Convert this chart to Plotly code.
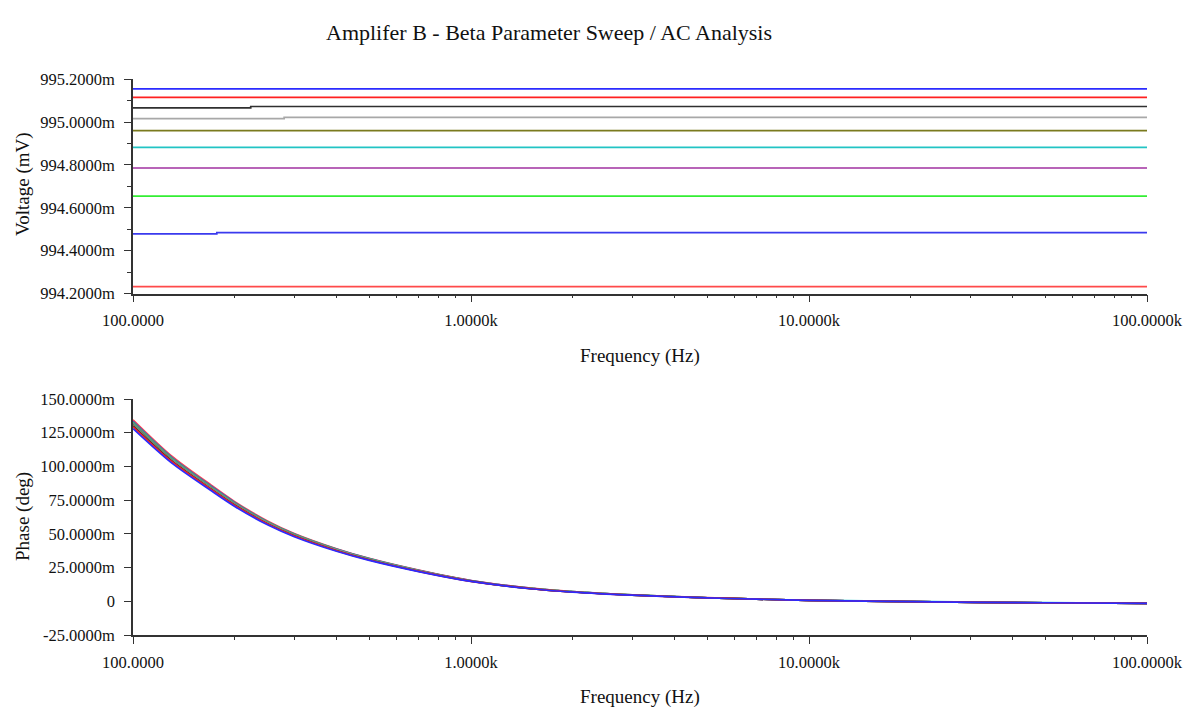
import plotly.graph_objects as go

# ---------------- data ----------------
COLORS = ["#2b2bff", "#ff2020", "#303030", "#a8a8a8", "#7a7a1e",
          "#22c4c4", "#a030a0", "#33ee33", "#3a3aee", "#ff4a4a"]

# magnitude (top plot), values in mV (tick labels shown with "m")
MAG_FREQ = [100, 177, 223, 280, 100000]
mag_blue_a   = [995.155, 995.155, 995.155, 995.155, 995.155]
mag_red_a    = [995.116, 995.116, 995.116, 995.116, 995.116]
mag_black    = [995.067, 995.067, 995.073, 995.073, 995.073]
mag_gray     = [995.016, 995.016, 995.016, 995.022, 995.022]
mag_olive    = [994.960, 994.960, 994.960, 994.960, 994.960]
mag_cyan     = [994.882, 994.882, 994.882, 994.882, 994.882]
mag_purple   = [994.786, 994.786, 994.786, 994.786, 994.786]
mag_green    = [994.655, 994.655, 994.655, 994.655, 994.655]
mag_blue_b   = [994.478, 994.484, 994.484, 994.484, 994.484]
mag_red_b    = [994.232, 994.232, 994.232, 994.232, 994.232]

# phase (bottom plot), values in milli-degrees
PH_FREQ = [100, 130, 170, 200, 250, 300, 400, 500, 700, 1000, 1500, 2000,
           3000, 5000, 7000, 10000, 20000, 50000, 100000]
ph_red_b   = [134.6, 107.8, 86.3, 73.9, 59.6, 50.3, 39.0, 31.8, 23.1, 15.4, 9.8, 7.2, 4.7, 2.7, 1.6, 0.7, -0.3, -1.1, -1.5]
ph_blue_b  = [133.4, 106.9, 85.5, 73.3, 59.0, 49.9, 38.7, 31.6, 22.9, 15.3, 9.7, 7.1, 4.7, 2.6, 1.6, 0.7, -0.3, -1.1, -1.5]
ph_green   = [132.6, 106.3, 85.0, 72.9, 58.7, 49.6, 38.5, 31.4, 22.8, 15.2, 9.6, 7.1, 4.7, 2.6, 1.6, 0.7, -0.3, -1.1, -1.5]
ph_purple  = [131.9, 105.7, 84.6, 72.5, 58.4, 49.3, 38.3, 31.2, 22.7, 15.1, 9.6, 7.0, 4.6, 2.6, 1.6, 0.7, -0.3, -1.1, -1.5]
ph_cyan    = [131.4, 105.3, 84.3, 72.2, 58.2, 49.1, 38.1, 31.1, 22.6, 15.0, 9.5, 7.0, 4.6, 2.6, 1.6, 0.8, 0.0, -1.0, -1.5]
ph_olive   = [131.0, 105.0, 84.0, 72.0, 58.0, 49.0, 38.0, 31.0, 22.5, 15.0, 9.5, 7.0, 4.6, 2.6, 1.6, 0.7, -0.3, -1.1, -1.5]
ph_gray    = [130.5, 104.6, 83.7, 71.7, 57.8, 48.8, 37.9, 30.9, 22.4, 14.9, 9.5, 7.0, 4.6, 2.6, 1.6, 0.7, -0.3, -1.1, -1.5]
ph_black   = [130.0, 104.2, 83.3, 71.4, 57.5, 48.6, 37.7, 30.8, 22.3, 14.9, 9.4, 6.9, 4.6, 2.6, 1.6, 0.7, -0.3, -1.1, -1.5]
ph_red_a   = [129.4, 103.7, 83.0, 71.1, 57.3, 48.4, 37.5, 30.6, 22.2, 14.8, 9.4, 6.9, 4.5, 2.6, 1.6, 0.7, -0.3, -1.1, -1.5]
ph_blue_a  = [128.0, 102.6, 82.1, 70.3, 56.7, 47.9, 37.1, 30.3, 22.0, 14.7, 9.3, 6.8, 4.5, 2.5, 1.6, 0.7, -0.3, -1.1, -1.5]

MAG_SERIES = [mag_blue_a, mag_red_a, mag_black, mag_gray, mag_olive,
              mag_cyan, mag_purple, mag_green, mag_blue_b, mag_red_b]
PH_SERIES = [ph_blue_a, ph_red_a, ph_black, ph_gray, ph_olive,
             ph_cyan, ph_purple, ph_green, ph_blue_b, ph_red_b]

X_TICKS = [100, 1000, 10000, 100000]
X_LABELS = ["100.0000", "1.0000k", "10.0000k", "100.0000k"]
X_MINOR = [m * d for d in (100, 1000, 10000) for m in range(2, 10)]

MAG_TICKS = [994.2, 994.4, 994.6, 994.8, 995.0, 995.2]
MAG_LABELS = ["994.2000m", "994.4000m", "994.6000m", "994.8000m", "995.0000m", "995.2000m"]
MAG_MINOR = [994.3, 994.5, 994.7, 994.9, 995.1]

PH_TICKS = [-25, 0, 25, 50, 75, 100, 125, 150]
PH_LABELS = ["-25.0000m", "0", "25.0000m", "50.0000m", "75.0000m",
             "100.0000m", "125.0000m", "150.0000m"]

TITLE = "Amplifer B - Beta Parameter Sweep / AC Analysis"

# ---------------- figure ----------------
W, H = 1202, 709
FONT = "Liberation Serif, Times New Roman, serif"
fig = go.Figure()

for vals, col in zip(MAG_SERIES, COLORS):
    fig.add_trace(go.Scatter(x=MAG_FREQ, y=vals, mode="lines", line=dict(color=col, width=1.7, shape="hv"),
                             xaxis="x", yaxis="y", showlegend=False, hoverinfo="skip"))
for vals, col in reversed(list(zip(PH_SERIES, COLORS))):
    fig.add_trace(go.Scatter(x=PH_FREQ, y=vals, mode="lines", line=dict(color=col, width=1.7, shape="spline", smoothing=0.8),
                             xaxis="x2", yaxis="y2", showlegend=False, hoverinfo="skip"))

xdom = [133 / W, 1147 / W]
ydom_top = [(H - 293.5) / H, (H - 79.3) / H]
ydom_bot = [(H - 635) / H, (H - 399) / H]

axis_common = dict(showgrid=False, zeroline=False, showline=True, linecolor="#333333", linewidth=1.5,
                   ticks="outside", ticklen=7, tickwidth=1.3, tickcolor="#333333",
                   tickfont=dict(family=FONT, size=16.5, color="#111111"), automargin=False)

xax = dict(axis_common, type="log", range=[2, 5], domain=xdom, tickmode="array",
           tickvals=X_TICKS, ticktext=X_LABELS, ticklabelstandoff=4,
           minor=dict(tickmode="array", tickvals=X_MINOR, ticks="outside", ticklen=3,
                      tickcolor="#333333", tickwidth=1, showgrid=False))

fig.update_layout(
    width=W, height=H, margin=dict(l=0, r=0, t=0, b=0),
    paper_bgcolor="white", plot_bgcolor="white",
    xaxis=dict(xax, anchor="y"),
    xaxis2=dict(xax, anchor="y2"),
    yaxis=dict(axis_common, domain=ydom_top, range=[994.2, 995.2], tickmode="array",
               tickvals=MAG_TICKS, ticktext=MAG_LABELS, anchor="x", ticklabelstandoff=6,
               minor=dict(tickmode="array", tickvals=MAG_MINOR, ticks="outside", ticklen=4,
                          tickcolor="#333333", tickwidth=1, showgrid=False)),
    yaxis2=dict(axis_common, domain=ydom_bot, range=[-25, 150], tickmode="array",
                tickvals=PH_TICKS, ticktext=PH_LABELS, anchor="x2", ticklabelstandoff=6),
    showlegend=False,
)

def ann(text, x, y, size, angle=0):
    fig.add_annotation(text=text, x=x / W, y=1 - y / H, xref="paper", yref="paper",
                       showarrow=False, textangle=angle, xanchor="center", yanchor="middle",
                       font=dict(family=FONT, size=size, color="#111111"))

ann(TITLE, 549, 32, 22)
ann("Frequency (Hz)", 640, 356, 19)
ann("Frequency (Hz)", 640, 697, 19)
ann("Voltage (mV)", 23, 184, 19, -90)
ann("Phase (deg)", 23, 517, 19, -90)

fig.write_html("out.html", config={"displayModeBar": False},
               post_script="document.body.style.margin='0';document.body.style.padding='0';")
